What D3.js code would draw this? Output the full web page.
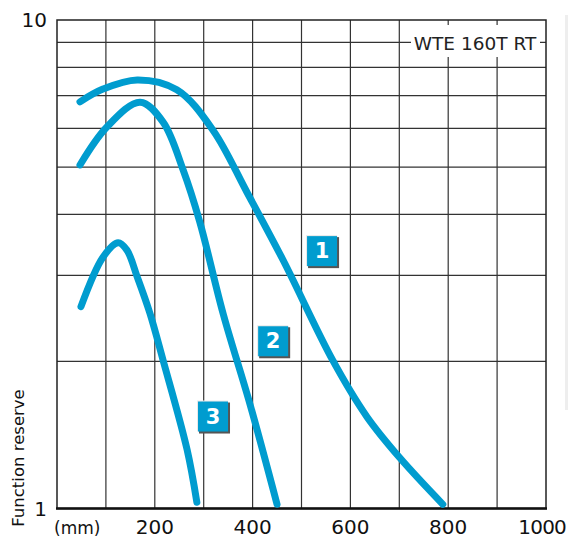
<!DOCTYPE html>
<html>
<head>
<meta charset="utf-8">
<script src="https://cdn.jsdelivr.net/npm/d3@7"></script>
<style>
  html, body { margin: 0; padding: 0; background: #fff; }
  svg { display: block; font-family: "DejaVu Sans", sans-serif; }
</style>
</head>
<body>
<svg id="chart" width="568" height="540"></svg>
<script>
// distance (mm) and function reserve
const curve1X = [47, 94, 164, 245, 319, 389, 462, 564, 634, 701, 789];
const curve1Y = [6.80, 7.22, 7.54, 7.20, 5.95, 4.43, 3.23, 2.01, 1.54, 1.27, 1.02];
const curve2X = [47, 102, 170, 217, 258, 292, 340, 395, 450];
const curve2Y = [5.05, 6.04, 6.79, 6.18, 4.93, 3.86, 2.50, 1.63, 1.02];
const curve3X = [49, 94, 125, 143, 164, 190, 217, 266, 286];
const curve3Y = [2.59, 3.27, 3.50, 3.38, 2.98, 2.51, 2.01, 1.32, 1.03];

const curveNames = ['1', '2', '3'];
const labelX = [540, 440, 317];
const labelY = [3.38, 2.21, 1.55];

const xTicks = [200, 400, 600, 800, 1000];
const xGrid = [100, 200, 300, 400, 500, 600, 700, 800, 900];
const yGrid = [2, 3, 4, 5, 6, 7, 8, 9];
const yTicks = [1, 10];
const title = 'WTE 160T RT';

const blue = '#009ccf';

const svg = d3.select('#chart');

const x = d3.scaleLinear().domain([0, 1000]).range([57, 546]);
const y = d3.scaleLog().domain([1, 10]).range([508.5, 20]);

// faint strip at the right edge
svg.append('rect')
    .attr('x', 565).attr('y', 15).attr('width', 3).attr('height', 395)
    .attr('fill', '#eeeeee');

// grid
const grid = svg.append('g').attr('stroke', '#333').attr('stroke-width', 1.2);
grid.selectAll('.vx').data(xGrid).join('line')
    .attr('x1', d => x(d)).attr('x2', d => x(d))
    .attr('y1', y(10)).attr('y2', y(1));
grid.selectAll('.hy').data(yGrid).join('line')
    .attr('x1', x(0)).attr('x2', x(1000))
    .attr('y1', d => y(d)).attr('y2', d => y(d));

// frame
svg.append('rect')
    .attr('x', x(0)).attr('y', y(10))
    .attr('width', x(1000) - x(0)).attr('height', y(1) - y(10))
    .attr('fill', 'none').attr('stroke', '#222').attr('stroke-width', 1.5);
svg.append('line')
    .attr('x1', x(0) - 1).attr('x2', x(1000) + 1)
    .attr('y1', y(1)).attr('y2', y(1))
    .attr('stroke', '#111').attr('stroke-width', 2.5);

// title box
svg.append('rect')
    .attr('x', 411).attr('y', 25).attr('width', 129).attr('height', 32)
    .attr('fill', '#fff');
svg.append('text')
    .attr('x', 475).attr('y', 50)
    .attr('text-anchor', 'middle')
    .attr('font-size', 18.5)
    .attr('fill', '#222')
    .text(title);

// curves
const line = d3.line()
    .x(d => x(d[0]))
    .y(d => y(d[1]))
    .curve(d3.curveCatmullRom.alpha(0.5));

const series = [
    d3.zip(curve1X, curve1Y),
    d3.zip(curve2X, curve2Y),
    d3.zip(curve3X, curve3Y)
];

svg.append('g').selectAll('path').data(series).join('path')
    .attr('d', line)
    .attr('fill', 'none')
    .attr('stroke', blue)
    .attr('stroke-width', 7)
    .attr('stroke-linecap', 'round')
    .attr('stroke-linejoin', 'round');

// numbered labels
const labels = svg.append('g').selectAll('g').data(curveNames).join('g')
    .attr('transform', (d, i) => `translate(${x(labelX[i])}, ${y(labelY[i])})`);
labels.append('rect')
    .attr('x', -15).attr('y', -15).attr('width', 31).attr('height', 31)
    .attr('fill', '#e8e8e8');
labels.append('rect')
    .attr('x', -13).attr('y', -13).attr('width', 31).attr('height', 31)
    .attr('fill', '#555');
labels.append('rect')
    .attr('x', -14).attr('y', -14).attr('width', 30).attr('height', 30)
    .attr('fill', blue);
labels.append('text')
    .attr('x', 1).attr('y', 8)
    .attr('text-anchor', 'middle')
    .attr('font-size', 21)
    .attr('font-weight', 'bold')
    .attr('fill', '#fff')
    .text(d => d);

// axis labels (last one pulled in so it stays on the page)
svg.append('g').selectAll('text').data(xTicks).join('text')
    .attr('x', d => d === 1000 ? 566 : x(d))
    .attr('y', 534)
    .attr('text-anchor', d => d === 1000 ? 'end' : 'middle')
    .attr('font-size', 20)
    .attr('letter-spacing', d => d === 1000 ? -0.8 : 0)
    .attr('fill', '#111')
    .text(d => d);

svg.append('text')
    .attr('x', 54).attr('y', 534)
    .attr('font-size', 17)
    .attr('fill', '#111')
    .text('(mm)');

svg.append('g').selectAll('text').data(yTicks).join('text')
    .attr('x', 47)
    .attr('y', d => y(d) + 7)
    .attr('text-anchor', 'end')
    .attr('font-size', 20)
    .attr('fill', '#111')
    .text(d => d);

svg.append('text')
    .attr('transform', 'translate(24, 458) rotate(-90)')
    .attr('text-anchor', 'middle')
    .attr('font-size', 16.5)
    .attr('fill', '#111')
    .text('Function reserve');
</script>
</body>
</html>
